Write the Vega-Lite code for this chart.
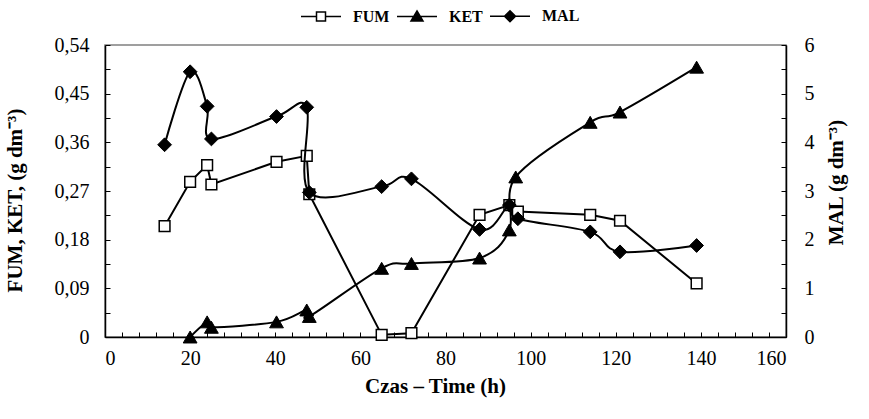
{
  "$schema": "https://vega.github.io/schema/vega-lite/v6.json",
  "width": 681,
  "height": 292,
  "autosize": {"type": "none"},
  "padding": {"left": 105, "top": 45, "right": 83, "bottom": 82},
  "background": "white",
  "config": {
    "font": "Liberation Serif",
    "view": {"stroke": "#808080", "strokeWidth": 1.5},
    "axis": {
      "grid": false,
      "domainColor": "black",
      "domainWidth": 1.5,
      "tickColor": "black",
      "tickWidth": 1,
      "tickSize": -5,
      "labelFont": "Liberation Serif",
      "labelFontSize": 20,
      "labelColor": "black",
      "labelOverlap": false,
      "titleFont": "Liberation Serif",
      "titleFontSize": 21,
      "titleFontWeight": "bold",
      "titleColor": "black"
    }
  },
  "data": {
    "values": [
      {"series": "FUM", "t": 14, "v": 0.205},
      {"series": "FUM", "t": 20, "v": 0.287},
      {"series": "FUM", "t": 24, "v": 0.318},
      {"series": "FUM", "t": 25, "v": 0.282},
      {"series": "FUM", "t": 40.3, "v": 0.324},
      {"series": "FUM", "t": 47.4, "v": 0.335},
      {"series": "FUM", "t": 48, "v": 0.264},
      {"series": "FUM", "t": 65, "v": 0.004},
      {"series": "FUM", "t": 72, "v": 0.007},
      {"series": "FUM", "t": 88, "v": 0.226},
      {"series": "FUM", "t": 95, "v": 0.244},
      {"series": "FUM", "t": 97, "v": 0.232},
      {"series": "FUM", "t": 114, "v": 0.226},
      {"series": "FUM", "t": 121, "v": 0.215},
      {"series": "FUM", "t": 139, "v": 0.099},
      {"series": "KET", "t": 20, "v": 0.0},
      {"series": "KET", "t": 24, "v": 0.028},
      {"series": "KET", "t": 25, "v": 0.018},
      {"series": "KET", "t": 40.3, "v": 0.028},
      {"series": "KET", "t": 47.4, "v": 0.05},
      {"series": "KET", "t": 48, "v": 0.038},
      {"series": "KET", "t": 65, "v": 0.127},
      {"series": "KET", "t": 72, "v": 0.136},
      {"series": "KET", "t": 88, "v": 0.146},
      {"series": "KET", "t": 95, "v": 0.198},
      {"series": "KET", "t": 96.5, "v": 0.296},
      {"series": "KET", "t": 114, "v": 0.397},
      {"series": "KET", "t": 121, "v": 0.416},
      {"series": "KET", "t": 139, "v": 0.499},
      {"series": "MAL", "t": 14, "v": 3.95},
      {"series": "MAL", "t": 20, "v": 5.45},
      {"series": "MAL", "t": 24, "v": 4.74},
      {"series": "MAL", "t": 25, "v": 4.07},
      {"series": "MAL", "t": 40.3, "v": 4.53},
      {"series": "MAL", "t": 47.4, "v": 4.72},
      {"series": "MAL", "t": 48, "v": 2.97},
      {"series": "MAL", "t": 65, "v": 3.09},
      {"series": "MAL", "t": 72, "v": 3.25},
      {"series": "MAL", "t": 88, "v": 2.21},
      {"series": "MAL", "t": 95, "v": 2.71},
      {"series": "MAL", "t": 97, "v": 2.43},
      {"series": "MAL", "t": 114, "v": 2.16},
      {"series": "MAL", "t": 121, "v": 1.75},
      {"series": "MAL", "t": 139, "v": 1.88}
    ]
  },
  "encoding": {
    "x": {
      "field": "t",
      "type": "quantitative",
      "scale": {"domain": [0, 160], "nice": false, "zero": false},
      "axis": {
        "title": "Czas – Time (h)",
        "values": [0,4,8,12,16,20,24,28,32,36,40,44,48,52,56,60,64,68,72,76,80,84,88,92,96,100,104,108,112,116,120,124,128,132,136,140,144,148,152,156,160],
        "labelExpr": "datum.value % 20 == 0 ? format(datum.value, 'd') : ''",
        "labelPadding": 16,
        "titleBaseline": "middle",
        "titleX": 330,
        "titleY": 49
      }
    }
  },
  "layer": [
    {
      "encoding": {
        "y": {
          "field": "v",
          "type": "quantitative",
          "scale": {"domain": [0, 0.54], "nice": false, "zero": false},
          "axis": {
            "orient": "left",
            "title": "FUM, KET, (g dm⁻³)",
            "values": [0,0.045,0.09,0.135,0.18,0.225,0.27,0.315,0.36,0.405,0.45,0.495,0.54],
            "labelExpr": "datum.value == 0 ? '0' : (round(datum.value*1000) % 90 == 0 ? replace(format(datum.value, '.2f'), '.', ',') : '')",
            "labelPadding": 21,
            "titleAngle": -90,
            "titleX": -90,
            "titleY": 155,
            "titleAlign": "center",
            "titleBaseline": "middle"
          }
        }
      },
      "layer": [
        {
          "transform": [{"filter": "datum.series == 'FUM'"}],
          "mark": {"type": "line", "interpolate": "linear", "color": "black", "strokeWidth": 2}
        },
        {
          "transform": [{"filter": "datum.series == 'FUM'"}],
          "mark": {"type": "point", "shape": "square", "filled": true, "fill": "white", "stroke": "black", "strokeWidth": 1.5, "size": 115, "opacity": 1}
        },
        {
          "transform": [{"filter": "datum.series == 'KET'"}],
          "mark": {"type": "line", "interpolate": "cardinal", "color": "black", "strokeWidth": 2}
        },
        {
          "transform": [{"filter": "datum.series == 'KET'"}],
          "mark": {"type": "point", "shape": "triangle-up", "filled": true, "fill": "black", "stroke": "black", "strokeWidth": 1, "size": 190, "opacity": 1}
        },
        {
          "transform": [{"filter": "false"}],
          "mark": {"type": "point", "filled": true, "stroke": "black", "strokeWidth": 2, "opacity": 1},
          "encoding": {
            "shape": {
              "field": "series",
              "type": "nominal",
              "scale": {
                "domain": ["FUM", "KET", "MAL"],
                "range": [
                  "M-2,0H-0.45M0.45,0H2M-0.45,-0.45H0.45V0.45H-0.45Z",
                  "M-2,0H2M0,-0.55L0.6,0.45H-0.6Z",
                  "M-2,0H2M0,-0.55L0.55,0L0,0.55L-0.55,0Z"
                ]
              },
              "legend": {
                "title": null,
                "orient": "none",
                "direction": "horizontal",
                "legendX": 205,
                "legendY": -40,
                "symbolSize": 400,
                "labelOffset": 21,
                "columnPadding": 4,
                "labelFont": "Liberation Serif",
                "labelFontSize": 16,
                "labelFontWeight": "bold",
                "labelColor": "black",
                "encode": {"symbols": {"update": {"stroke": {"value": "black"}, "strokeWidth": {"value": 2}}}}
              }
            },
            "fill": {
              "field": "series",
              "type": "nominal",
              "scale": {"domain": ["FUM", "KET", "MAL"], "range": ["white", "black", "black"]},
              "legend": {
                "title": null,
                "orient": "none",
                "direction": "horizontal",
                "legendX": 205,
                "legendY": -40,
                "symbolSize": 400,
                "labelOffset": 21,
                "columnPadding": 4,
                "labelFont": "Liberation Serif",
                "labelFontSize": 16,
                "labelFontWeight": "bold",
                "labelColor": "black",
                "encode": {"symbols": {"update": {"stroke": {"value": "black"}, "strokeWidth": {"value": 2}}}}
              }
            }
          }
        }
      ]
    },
    {
      "encoding": {
        "y": {
          "field": "v",
          "type": "quantitative",
          "scale": {"domain": [0, 6], "nice": false, "zero": false},
          "axis": {
            "orient": "right",
            "title": "MAL (g dm⁻³)",
            "values": [0,0.5,1,1.5,2,2.5,3,3.5,4,4.5,5,5.5,6],
            "labelExpr": "datum.value % 1 == 0 ? format(datum.value, 'd') : ''",
            "labelPadding": 23,
            "titleAngle": -90,
            "titleX": 50,
            "titleY": 137,
            "titleAlign": "center",
            "titleBaseline": "middle"
          }
        }
      },
      "layer": [
        {
          "transform": [{"filter": "datum.series == 'MAL'"}],
          "mark": {"type": "line", "interpolate": "cardinal", "color": "black", "strokeWidth": 2}
        },
        {
          "transform": [{"filter": "datum.series == 'MAL'"}],
          "mark": {"type": "point", "shape": "diamond", "filled": true, "fill": "black", "stroke": "black", "strokeWidth": 1, "size": 190, "opacity": 1}
        }
      ]
    }
  ],
  "resolve": {"scale": {"y": "independent"}}
}
